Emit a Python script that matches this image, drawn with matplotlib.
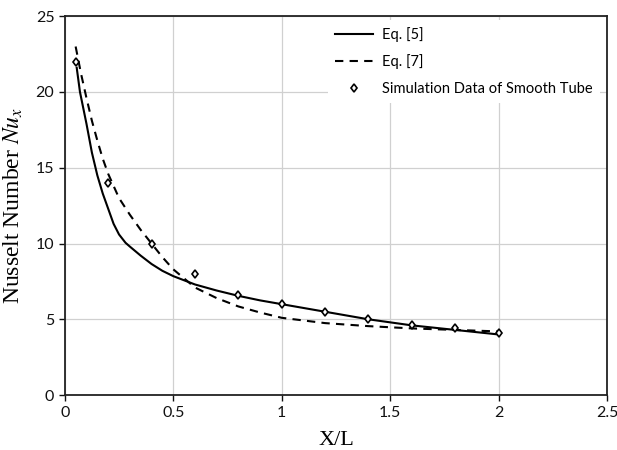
import matplotlib
matplotlib.use("Agg")
import matplotlib.pyplot as plt

plt.rcParams["mathtext.fontset"] = "stix"

# Eq. [5] (solid line)
eq5_x = [0.055, 0.07, 0.1, 0.125, 0.15, 0.175, 0.2, 0.225, 0.25, 0.28, 0.3, 0.35, 0.4,
         0.45, 0.5, 0.6, 0.7, 0.8, 0.9, 1.0, 1.2, 1.4, 1.6, 1.8, 2.0]
eq5_y = [21.6, 20.0, 17.9, 16.0, 14.5, 13.3, 12.3, 11.3, 10.6, 10.05, 9.8, 9.2, 8.65,
         8.2, 7.85, 7.3, 6.9, 6.55, 6.25, 6.0, 5.5, 5.0, 4.6, 4.3, 4.0]

# Eq. [7] (dashed line)
eq7_x = [0.05, 0.075, 0.1, 0.125, 0.15, 0.175, 0.2, 0.25, 0.3, 0.35, 0.4, 0.45, 0.5,
         0.55, 0.6, 0.7, 0.8, 0.9, 1.0, 1.2, 1.4, 1.6, 1.8, 2.0]
eq7_y = [23.0, 21.2, 19.6, 18.1, 16.8, 15.6, 14.6, 13.0, 11.9, 10.9, 10.0, 9.1, 8.3,
         7.7, 7.1, 6.4, 5.85, 5.45, 5.1, 4.75, 4.55, 4.4, 4.3, 4.2]

# Simulation data of smooth tube (diamonds)
sim_x = [0.05, 0.2, 0.4, 0.6, 0.8, 1.0, 1.2, 1.4, 1.6, 1.8, 2.0]
sim_y = [22.0, 14.0, 10.0, 8.0, 6.6, 6.0, 5.5, 5.0, 4.65, 4.4, 4.1]

x_ticks = [0, 0.5, 1, 1.5, 2, 2.5]
x_labels = ["0", "0.5", "1", "1.5", "2", "2.5"]
y_ticks = [0, 5, 10, 15, 20, 25]

fig = plt.figure(figsize=(6.17, 4.5), dpi=100)
ax = fig.add_axes([0.105, 0.122, 0.879, 0.842])

ax.plot(eq5_x, eq5_y, color="black", lw=1.5, label="Eq. [5]")
ax.plot(eq7_x, eq7_y, color="black", lw=1.5, ls=(0, (4, 3)), label="Eq. [7]")
ax.plot(sim_x, sim_y, ls="none", marker="d", ms=4.5, mfc="white", mec="black",
        mew=1.2, label="Simulation Data of Smooth Tube")

ax.set_xlim(0, 2.5)
ax.set_ylim(0, 25)
ax.set_xticks(x_ticks)
ax.set_xticklabels(x_labels)
ax.set_yticks(y_ticks)
ax.grid(True, color="#d0d0d0", lw=0.9)
ax.set_axisbelow(True)

for s in ax.spines.values():
    s.set_color("#222222")
    s.set_linewidth(1.3)
ax.tick_params(direction="out", length=4, width=1, colors="#111111", labelsize=11.5)
for lab in ax.get_xticklabels() + ax.get_yticklabels():
    lab.set_family(["Lato", "DejaVu Sans"])

ax.set_xlabel("X/L", family="Liberation Serif", fontsize=16, labelpad=8)
ax.set_ylabel("Nusselt Number $\\mathit{Nu_x}$", family="Liberation Serif", fontsize=17,
              labelpad=8)

leg = ax.legend(loc="upper right", bbox_to_anchor=(1.0, 1.01), frameon=True,
                facecolor="white", edgecolor="none", framealpha=1, fancybox=False,
                prop={"family": "Lato", "size": 10.5}, handlelength=2.6,
                handletextpad=0.6, labelspacing=0.85, borderpad=0.5)

fig.savefig("out.png", dpi=100)
